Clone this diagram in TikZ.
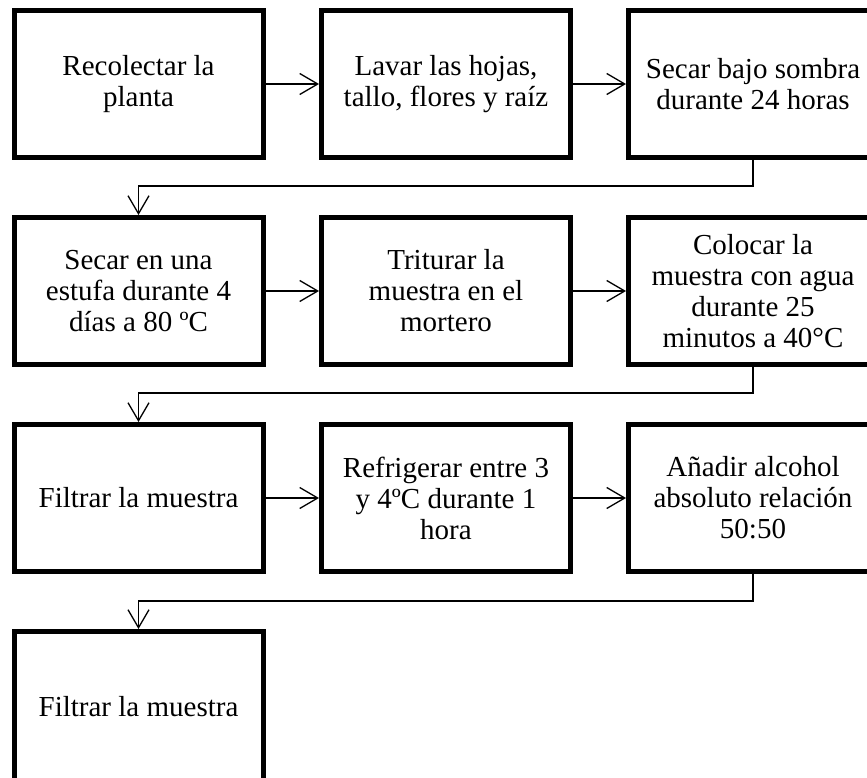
\documentclass[tikz,border=0pt]{standalone}
\usepackage{fontspec}
\setmainfont{Liberation Serif}
\usetikzlibrary{arrows.meta}
\begin{document}
\begin{tikzpicture}[x=1pt,y=-1pt,
  stepbox/.style={draw=black, line width=5pt, rectangle, minimum width=249pt, minimum height=147pt,
    inner sep=0pt, outer sep=2.5pt, align=center,
    font=\fontsize{29pt}{31pt}\selectfont},
  flow/.style={line width=1.3pt, -{Straight Barb[length=18pt,width=21pt,line width=1.3pt]}}]
\useasboundingbox (0,0) rectangle (867,778);
\clip (0,0) rectangle (867,778);
\fill[white] (0,0) rectangle (867,778);
% row 1
\node[stepbox] (a1) at (138.5,84) {Recolectar la\\planta};
\node[stepbox] (a2) at (446,84) {Lavar las hojas,\\tallo, flores y raíz};
\node[stepbox] (a3) at (753,84) {Secar bajo sombra\\durante 24 horas};
% row 2
\node[stepbox] (b1) at (138.5,291) {Secar en una\\estufa durante 4\\días a 80 ºC};
\node[stepbox] (b2) at (446,291) {Triturar la\\muestra en el\\mortero};
\node[stepbox] (b3) at (753,291) {Colocar la\\muestra con agua\\durante 25\\minutos a 40°C};
% row 3
\node[stepbox] (c1) at (138.5,498) {Filtrar la muestra};
\node[stepbox] (c2) at (446,498) {Refrigerar entre 3\\y 4ºC durante 1\\hora};
\node[stepbox] (c3) at (753,498) {Añadir alcohol\\absoluto relación\\50:50};
% row 4
\node[stepbox, minimum height=151pt] (d1) at (138.5,707) {Filtrar la muestra};
% connectors
\draw[flow] (a1.east) -- (a2.west);
\draw[flow] (a2.east) -- (a3.west);
\draw[flow] (a3.south) -- ++(0,26) -| (b1.north);
\draw[flow] (b1.east) -- (b2.west);
\draw[flow] (b2.east) -- (b3.west);
\draw[flow] (b3.south) -- ++(0,26) -| (c1.north);
\draw[flow] (c1.east) -- (c2.west);
\draw[flow] (c2.east) -- (c3.west);
\draw[flow] (c3.south) -- ++(0,27) -| (d1.north);
\end{tikzpicture}
\end{document}
